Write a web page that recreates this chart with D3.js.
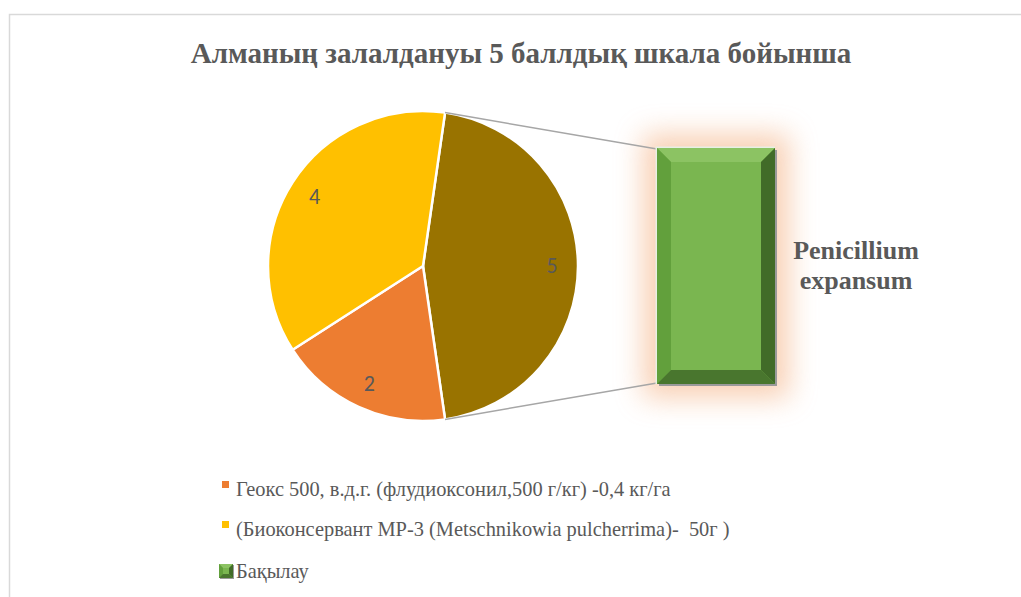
<!DOCTYPE html>
<html>
<head>
<meta charset="utf-8">
<script src="https://cdn.jsdelivr.net/npm/d3@7"></script>
</head>
<body style="margin:0">
<svg id="chart" width="1021" height="597" style="display:block"></svg>
<script>
// Series: infection score on a 5-point scale
const categories = [
  "Геокс 500, в.д.г. (флудиоксонил,500 г/кг) -0,4 кг/га",
  "(Биоконсервант МР-3 (Metschnikowia pulcherrima)-  50г )",
  "Бақылау"
];
const values = [2, 4, 5];
const colors = ["#ED7D31", "#FFC000", "#70AD47"];
const otherColor = "#997300";
const barLabel = ["Penicillium", "expansum"];
const title = "Алманың залалдануы 5 баллдық шкала бойынша";

const SERIF = "\"Liberation Serif\"";
const svg = d3.select("#chart");
const textColor = "#595959";

// chart area frame (top and left edges fall inside the canvas)
svg.append("path")
  .attr("d", "M9.5,597 V14.5 H1021")
  .attr("fill", "none").attr("stroke", "#d9d9d9").attr("stroke-width", 1.5);

svg.append("text")
  .attr("x", 521).attr("y", 63)
  .attr("text-anchor", "middle")
  .style("font-family", SERIF)
  .style("font-weight", "bold").style("font-size", "29px")
  .style("fill", textColor)
  .text(title);

// ---- primary pie: first two categories + "other" slice holding the last one
const cx = 423, cy = 266, r = 155;
const pieData = [
  { name: "other", value: values[2], color: otherColor },
  { name: categories[0], value: values[0], color: colors[0] },
  { name: categories[1], value: values[1], color: colors[1] }
];
const total = d3.sum(pieData, d => d.value);
const otherSpan = 2 * Math.PI * values[2] / total;
const start = Math.PI / 2 - otherSpan / 2;   // "other" slice faces the bar
const pie = d3.pie().sort(null).value(d => d.value)
  .startAngle(start).endAngle(start + 2 * Math.PI);
const arcs = pie(pieData);
const arc = d3.arc().innerRadius(0).outerRadius(r);
const labelArc = d3.arc().innerRadius(129).outerRadius(129);

const g = svg.append("g").attr("transform", `translate(${cx},${cy})`);
g.selectAll("path.slice").data(arcs).enter().append("path")
  .attr("class", "slice")
  .attr("d", arc)
  .attr("fill", d => d.data.color)
  .attr("stroke", "#fff").attr("stroke-width", 2.5)
  .attr("stroke-linejoin", "round");

g.selectAll("text.val").data(arcs).enter().append("text")
  .attr("class", "val")
  .attr("transform", d => `translate(${labelArc.centroid(d)})`)
  .attr("text-anchor", "middle").attr("dy", "0.33em")
  .style("font-family", "\"Carlito\"")
  .style("font-size", "22px")
  .style("fill", "#595959")
  .text(d => d.value);

// ---- secondary bar
const barX = 657, barW = 118;
const y = d3.scaleLinear().domain([0, values[2]]).range([384, 148]);
const barTop = y(values[2]), barBot = y(0);

const defs = svg.append("defs");
const glow = defs.append("filter").attr("id", "glow")
  .attr("x", "-80%").attr("y", "-50%").attr("width", "260%").attr("height", "200%");
glow.append("feGaussianBlur").attr("stdDeviation", 14);

svg.append("rect")
  .attr("x", barX - 14).attr("y", barTop - 14)
  .attr("width", barW + 28).attr("height", barBot - barTop + 28)
  .attr("fill", "#F4B183").attr("opacity", 0.6)
  .attr("filter", "url(#glow)");

// connectors from the "other" slice edges to the bar corners
const pt = a => [cx + r * Math.sin(a), cy - r * Math.cos(a)];
const p1 = pt(arcs[0].startAngle), p2 = pt(arcs[0].endAngle);
svg.append("line").attr("x1", p1[0]).attr("y1", p1[1])
  .attr("x2", barX).attr("y2", barTop + 1)
  .attr("stroke", "#a6a6a6").attr("stroke-width", 1.5);
svg.append("line").attr("x1", p2[0]).attr("y1", p2[1])
  .attr("x2", barX).attr("y2", barBot - 1)
  .attr("stroke", "#a6a6a6").attr("stroke-width", 1.5);

// bevelled bar
function bevel(sel, x0, y0, w, h, b) {
  const x1 = x0 + w, y1 = y0 + h;
  sel.append("rect").attr("x", x0).attr("y", y0).attr("width", w).attr("height", h)
    .attr("fill", "#70AD47");
  sel.append("polygon").attr("points", [[x0, y0], [x1, y0], [x1 - b, y0 + b], [x0 + b, y0 + b]].join(" "))
    .attr("fill", "#8cc363");
  sel.append("polygon").attr("points", [[x0, y0], [x0 + b, y0 + b], [x0 + b, y1 - b], [x0, y1]].join(" "))
    .attr("fill", "#62a03c");
  sel.append("polygon").attr("points", [[x1, y0], [x1, y1], [x1 - b, y1 - b], [x1 - b, y0 + b]].join(" "))
    .attr("fill", "#416b28");
  sel.append("polygon").attr("points", [[x0, y1], [x1, y1], [x1 - b, y1 - b], [x0 + b, y1 - b]].join(" "))
    .attr("fill", "#49762e");
  sel.append("rect").attr("x", x0 + b).attr("y", y0 + b).attr("width", w - 2 * b).attr("height", h - 2 * b)
    .attr("fill", "#7AB650");
}
const bar = svg.append("g");
// light rim on top/left and a grey drop edge on bottom/right
bar.append("rect").attr("x", barX + 2).attr("y", barTop + 2)
  .attr("width", barW).attr("height", barBot - barTop).attr("fill", "#9a9a9a");
bar.append("rect").attr("x", barX - 1.5).attr("y", barTop - 1.5)
  .attr("width", barW + 1.5).attr("height", barBot - barTop + 1.5).attr("fill", "#e8efe4");
bevel(bar, barX, barTop, barW, barBot - barTop, 14);

barLabel.forEach((t, i) => {
  svg.append("text")
    .attr("x", 856).attr("y", 259 + i * 30)
    .attr("text-anchor", "middle")
    .style("font-family", SERIF)
    .style("font-weight", "bold").style("font-size", "26px")
    .style("fill", textColor)
    .text(t);
});

// ---- legend
const legendY = [496, 536, 578];
const leg = svg.append("g");
categories.forEach((c, i) => {
  if (i < 2) {
    leg.append("rect").attr("x", 222).attr("y", legendY[i] - 15)
      .attr("width", 7).attr("height", 7).attr("fill", colors[i]);
  } else {
    const m = leg.append("g");
    m.append("rect").attr("x", 220).attr("y", legendY[i] - 13).attr("width", 14).attr("height", 14).attr("fill", "#9a9a9a");
    bevel(m, 219, legendY[i] - 14, 14, 14, 4);
  }
  leg.append("text").attr("x", 236).attr("y", legendY[i])
    .style("font-family", SERIF).style("font-size", "20.4px")
    .style("white-space", "pre")
    .style("fill", textColor)
    .text(c);
});
</script>
</body>
</html>
